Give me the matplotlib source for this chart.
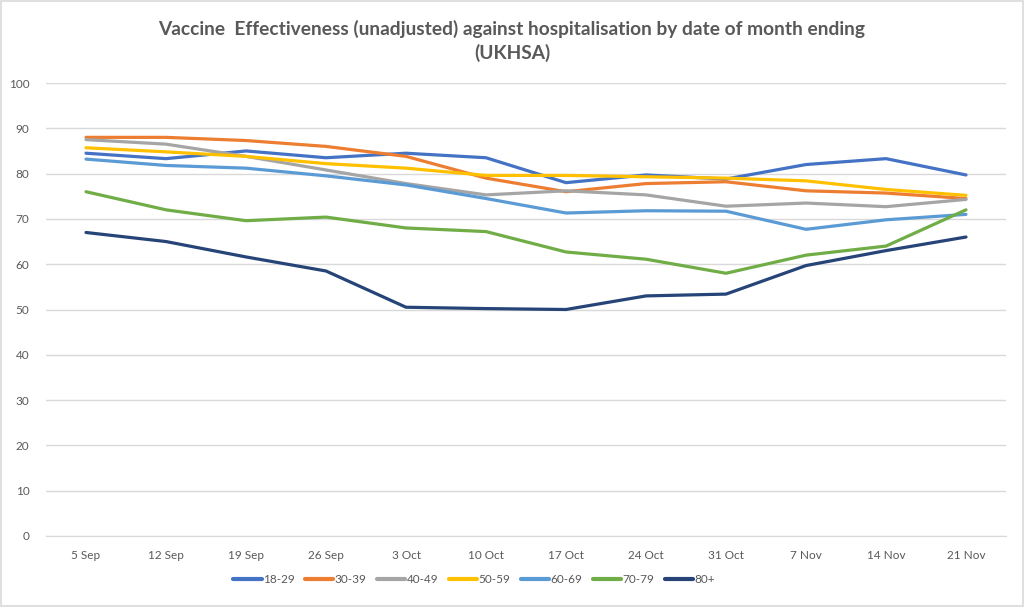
import numpy as np
import matplotlib.pyplot as plt
from matplotlib.patches import Rectangle

# Data
dates = ['5 Sep', '12 Sep', '19 Sep', '26 Sep', '3 Oct', '10 Oct', '17 Oct',
         '24 Oct', '31 Oct', '7 Nov', '14 Nov', '21 Nov']
ve_18_29 = [84.5, 83.3, 85.0, 83.5, 84.5, 83.5, 78.0, 79.7, 78.8, 82.0, 83.3, 79.7]
ve_30_39 = [88.0, 88.0, 87.3, 86.0, 83.8, 79.0, 76.0, 77.8, 78.2, 76.2, 75.7, 74.5]
ve_40_49 = [87.5, 86.5, 83.8, 80.8, 77.8, 75.3, 76.2, 75.3, 72.8, 73.5, 72.7, 74.3]
ve_50_59 = [85.7, 84.8, 83.8, 82.2, 81.2, 79.6, 79.6, 79.3, 79.0, 78.4, 76.5, 75.2]
ve_60_69 = [83.2, 81.8, 81.2, 79.5, 77.5, 74.5, 71.3, 71.8, 71.7, 67.7, 69.8, 71.0]
ve_70_79 = [76.0, 72.0, 69.6, 70.4, 68.0, 67.2, 62.7, 61.1, 58.0, 62.0, 64.0, 72.0]
ve_80p = [67.0, 65.0, 61.6, 58.5, 50.5, 50.2, 50.0, 53.0, 53.4, 59.7, 63.0, 66.0]

series = [('18-29', ve_18_29, '#4472C4'),
          ('30-39', ve_30_39, '#ED7D31'),
          ('40-49', ve_40_49, '#A5A5A5'),
          ('50-59', ve_50_59, '#FFC000'),
          ('60-69', ve_60_69, '#5B9BD5'),
          ('70-79', ve_70_79, '#70AD47'),
          ('80+', ve_80p, '#264478')]

plt.rcParams['font.family'] = ['Lato', 'DejaVu Sans']

fig = plt.figure(figsize=(10.24, 6.07), dpi=100)
ax = fig.add_axes([46 / 1024, 1 - 536 / 607, 960 / 1024, 453 / 607])

x = np.arange(len(dates))
for name, vals, col in series:
    ax.plot(x, vals, color=col, lw=2.3, label=name, solid_capstyle='round')

ax.set_xlim(-0.5, len(dates) - 0.5)
ax.set_ylim(0, 100)
ax.set_yticks(np.arange(0, 101, 10))
ax.set_xticks(x)
ax.set_xticklabels(dates)
ax.grid(axis='y', color='#D9D9D9', lw=1)
ax.set_axisbelow(True)
for s in ['top', 'right', 'left']:
    ax.spines[s].set_visible(False)
ax.spines['bottom'].set_color('#D9D9D9')
ax.tick_params(length=0, colors='#595959', labelsize=8.5, pad=10)
ax.tick_params(axis='y', pad=12)

fig.suptitle('Vaccine  Effectiveness (unadjusted) against hospitalisation by date of month ending\n(UKHSA)',
             y=0.968, fontsize=13.8, fontweight='bold', color='#595959', linespacing=1.45)

leg = fig.legend(loc='center', bbox_to_anchor=(0.463, 0.045), ncol=7, frameon=False,
                 fontsize=8.5, handlelength=2.4, columnspacing=0.9, handletextpad=0.1,
                 labelcolor='#595959')
for h in leg.get_lines():
    h.set_linewidth(3)

fig.patches.append(Rectangle((0.001, 0.001), 0.998, 0.997, transform=fig.transFigure,
                             fill=False, edgecolor='#D9D9D9', lw=1.2))

fig.savefig('out.png', dpi=100)
